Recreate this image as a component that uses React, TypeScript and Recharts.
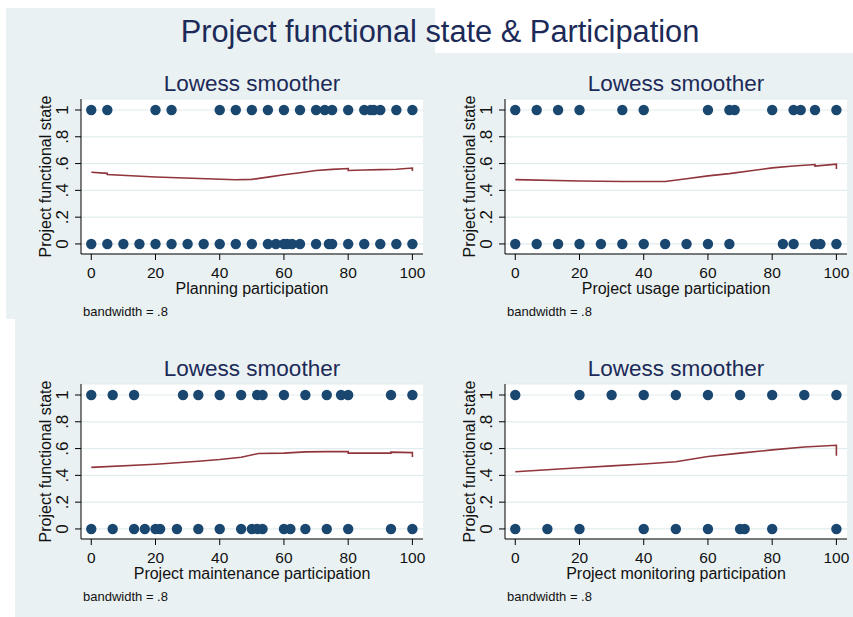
import React from 'react';
import { ComposedChart, Scatter, Line, XAxis, YAxis, CartesianGrid } from 'recharts';

// ---------- data ----------
const xTicks = [0, 20, 40, 60, 80, 100];
const yTicks = [0, 0.2, 0.4, 0.6, 0.8, 1];
const yTickLabels = ['0', '.2', '.4', '.6', '.8', '1'];

const mainTitle = 'Project functional state & Participation';
const panelTitle = 'Lowess smoother';
const yTitle = 'Project functional state';
const note = 'bandwidth = .8';

const planningTitle = 'Planning participation';
const planningFunctional = [0, 5, 20, 25, 40, 45, 50, 55, 60, 65, 70, 72.7, 75, 80, 85, 87, 88, 90, 95, 100];
const planningNotFunctional = [0, 5, 10, 15, 20, 25, 30, 35, 40, 45, 50, 55, 57.5, 60, 61, 62.5, 65, 70, 74, 75, 80, 85, 90, 95, 100];
const planningLowessX = [0, 5, 5, 20, 45, 50, 55, 60, 65, 70, 75, 80, 80, 85, 90, 95, 100, 100];
const planningLowessY = [0.535, 0.527, 0.519, 0.5, 0.479, 0.482, 0.499, 0.516, 0.532, 0.548, 0.557, 0.563, 0.548, 0.552, 0.555, 0.558, 0.567, 0.545];

const usageTitle = 'Project usage participation';
const usageFunctional = [0, 6.67, 13.33, 20, 33.33, 40, 60, 66.67, 68.33, 80, 86.67, 88.89, 93.33, 100];
const usageNotFunctional = [0, 6.67, 13.33, 20, 26.67, 33.33, 40, 46.67, 53.33, 60, 66.67, 83.33, 86.67, 93.33, 95, 100];
const usageLowessX = [0, 20, 33.33, 46.67, 53.33, 60, 66.67, 73.33, 80, 86.67, 93.33, 93.33, 100, 100];
const usageLowessY = [0.48, 0.47, 0.466, 0.466, 0.487, 0.508, 0.525, 0.547, 0.568, 0.582, 0.593, 0.581, 0.595, 0.56];

const maintTitle = 'Project maintenance participation';
const maintFunctional = [0, 6.67, 13.33, 28.57, 33.33, 40, 46.67, 51.67, 53.33, 60, 66.67, 73.33, 77.78, 80, 93.33, 100];
const maintNotFunctional = [0, 6.67, 13.33, 16.67, 20, 21.43, 26.67, 33.33, 40, 46.67, 50, 51.67, 53.33, 60, 62, 66.67, 73.33, 80, 93.33, 100];
const maintLowessX = [0, 20, 33.33, 40, 46.67, 52, 60, 66.67, 73.33, 80, 80, 93.33, 93.33, 100, 100];
const maintLowessY = [0.46, 0.483, 0.505, 0.518, 0.535, 0.563, 0.566, 0.575, 0.577, 0.577, 0.566, 0.566, 0.573, 0.57, 0.537];

const monitTitle = 'Project monitoring participation';
const monitFunctional = [0, 20, 30, 40, 50, 60, 70, 80, 90, 100];
const monitNotFunctional = [0, 10, 20, 40, 50, 60, 70, 71.43, 80, 100];
const monitLowessX = [0, 10, 20, 30, 40, 50, 60, 70, 80, 90, 100, 100];
const monitLowessY = [0.427, 0.442, 0.457, 0.471, 0.485, 0.502, 0.541, 0.566, 0.59, 0.612, 0.625, 0.547];

// ---------- styling ----------
const FONT = '"Liberation Sans", Arial, Helvetica, sans-serif';
const BG = '#EAF1F3';
const GRID = '#E2EBEE';
const MARKER = '#1A476F';
const LINE = '#90353B';
const NAVY = '#1C2A58';
const INK = '#111111';

const X_DOMAIN: [number, number] = [-3.2, 103.3];
const Y_DOMAIN: [number, number] = [-0.075, 1.082];

const Dot = (props: any) => {
  const { cx, cy } = props;
  if (cx == null || cy == null) return null;
  return <circle cx={cx} cy={cy} r={5.2} fill={MARKER} />;
};

const YTick = (props: any) => {
  const { x, y, payload } = props;
  const idx = yTicks.indexOf(payload.value);
  const label = idx >= 0 ? yTickLabels[idx] : String(payload.value);
  return (
    <text
      x={x}
      y={y}
      dy="0.36em"
      transform={`rotate(-90 ${x} ${y})`}
      textAnchor="middle"
      fontSize={17}
      fontFamily={FONT}
      fill={INK}
    >
      {label}
    </text>
  );
};

type PanelProps = {
  left: number;
  top: number;
  functional: number[];
  notFunctional: number[];
  lowessX: number[];
  lowessY: number[];
};

const Panel = ({ left, top, functional, notFunctional, lowessX, lowessY }: PanelProps) => {
  const ones = functional.map((x) => ({ x, y: 1 }));
  const zeros = notFunctional.map((x) => ({ x, y: 0 }));
  const smooth = lowessX.map((x, i) => ({ x, y: lowessY[i] }));
  return (
    <div style={{ position: 'absolute', left, top, width: 430, height: 260 }}>
      <ComposedChart width={430} height={260} margin={{ top: 39, right: 7, bottom: 20, left: 21 }}>
        <CartesianGrid horizontal vertical={false} stroke={GRID} strokeWidth={1.2} fill="#FFFFFF" />
        <XAxis
          type="number"
          dataKey="x"
          domain={X_DOMAIN}
          ticks={xTicks}
          allowDataOverflow
          height={46}
          tickSize={6}
          tickMargin={7}
          axisLine={{ stroke: '#000', strokeWidth: 1 }}
          tickLine={{ stroke: '#000', strokeWidth: 1 }}
          tick={{ fontSize: 15.5, fontFamily: FONT, fill: INK }}
        />
        <YAxis
          type="number"
          dataKey="y"
          domain={Y_DOMAIN}
          ticks={yTicks}
          allowDataOverflow
          width={60}
          tickSize={6}
          tickMargin={13}
          axisLine={{ stroke: '#000', strokeWidth: 1 }}
          tickLine={{ stroke: '#000', strokeWidth: 1 }}
          tick={<YTick />}
        />
        <Scatter data={ones} fill={MARKER} shape={<Dot />} isAnimationActive={false} />
        <Scatter data={zeros} fill={MARKER} shape={<Dot />} isAnimationActive={false} />
        <Line
          data={smooth}
          dataKey="y"
          type="linear"
          stroke={LINE}
          strokeWidth={1.6}
          dot={false}
          activeDot={false}
          isAnimationActive={false}
        />
      </ComposedChart>
    </div>
  );
};

const App = () => {
  const panels = [
    { left: 0, top: 60, xt: planningTitle, f: planningFunctional, n: planningNotFunctional, lx: planningLowessX, ly: planningLowessY },
    { left: 424, top: 60, xt: usageTitle, f: usageFunctional, n: usageNotFunctional, lx: usageLowessX, ly: usageLowessY },
    { left: 0, top: 345, xt: maintTitle, f: maintFunctional, n: maintNotFunctional, lx: maintLowessX, ly: maintLowessY },
    { left: 424, top: 345, xt: monitTitle, f: monitFunctional, n: monitNotFunctional, lx: monitLowessX, ly: monitLowessY },
  ];
  return (
    <div style={{ position: 'absolute', left: 0, top: 0, width: 853, height: 617, background: '#FFFFFF', overflow: 'hidden' }}>
      <svg width={853} height={617} style={{ position: 'absolute', left: 0, top: 0 }}>
        <rect x={6} y={8} width={429} height={311} fill={BG} />
        <rect x={435} y={53} width={418} height={564} fill={BG} />
        <rect x={15} y={319} width={420} height={298} fill={BG} />
      </svg>
      {panels.map((p, i) => (
        <Panel key={i} left={p.left} top={p.top} functional={p.f} notFunctional={p.n} lowessX={p.lx} lowessY={p.ly} />
      ))}
      <svg width={853} height={617} style={{ position: 'absolute', left: 0, top: 0, pointerEvents: 'none' }} fontFamily={FONT}>
        <text x={440} y={42} textAnchor="middle" fontSize={30.8} fill={NAVY}>{mainTitle}</text>
        {panels.map((p, i) => {
          const cx = p.left + 252;
          const plotTop = p.top + 39;
          const axisY = p.top + 194;
          const axisX = p.left + 81;
          return (
            <g key={i}>
              <text x={cx} y={plotTop - 8} textAnchor="middle" fontSize={22.5} fill={NAVY}>{panelTitle}</text>
              <text x={cx} y={axisY + 40} textAnchor="middle" fontSize={16} fill={INK}>{p.xt}</text>
              <text
                x={axisX - 30}
                y={(plotTop + axisY) / 2}
                transform={`rotate(-90 ${axisX - 30} ${(plotTop + axisY) / 2})`}
                textAnchor="middle"
                fontSize={16}
                fill={INK}
              >
                {yTitle}
              </text>
              <text x={p.left + 83} y={axisY + 62} fontSize={13} fill={INK}>{note}</text>
            </g>
          );
        })}
      </svg>
    </div>
  );
};

export default App;
